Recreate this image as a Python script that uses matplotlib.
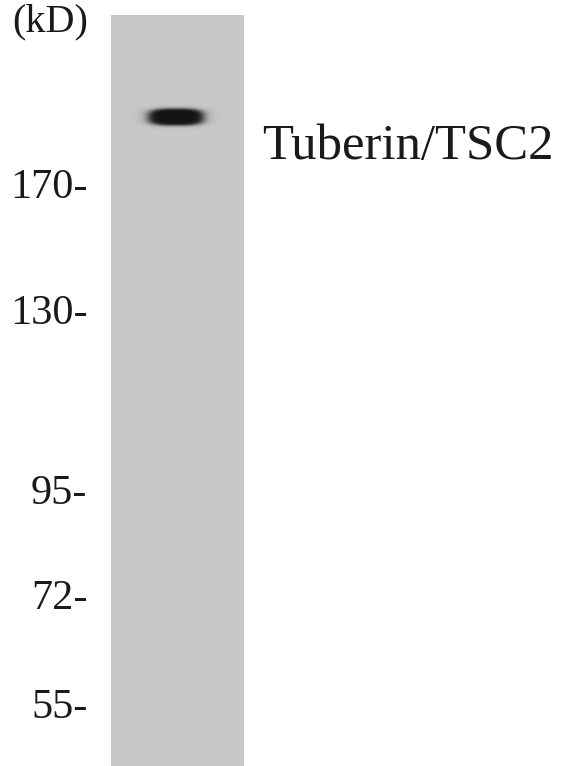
import numpy as np
import matplotlib
matplotlib.use("Agg")
import matplotlib.pyplot as plt

# marker ladder (kD) and the pixel rows where they sit on the blot
marker_labels = ["170", "130", "95", "72", "55"]
marker_rows = [183, 309, 489, 594, 703]

# detected band: centre row/col, half width/height, darkness (0..1)
band_name = "Tuberin/TSC2"
band_row = 117
band_col = 176
band_half_w = 28
band_half_h = 8.5
band_strength = 1.0

lane_color = 200 / 255.0
band_color = 20 / 255.0

W, H = 563, 766
fig = plt.figure(figsize=(W / 100, H / 100), dpi=100)
fig.patch.set_facecolor("white")

lane_left, lane_right, lane_top = 111, 244, 15
ax = fig.add_axes([lane_left / W, 0, (lane_right - lane_left) / W, (H - lane_top) / H])

# build the lane image, one value per pixel
xs = np.arange(lane_left, lane_right) + 0.5
ys = np.arange(lane_top, H) + 0.5
X, Y = np.meshgrid(xs, ys)
r = ((np.abs(X - band_col) / band_half_w) ** 3 + (np.abs(Y - band_row) / band_half_h) ** 3) ** (1 / 3)
dark = band_strength / (1 + r ** 10)
img = lane_color - (lane_color - band_color) * dark
ax.imshow(img, cmap="gray", vmin=0, vmax=1, extent=(lane_left, lane_right, H, lane_top),
          aspect="auto", interpolation="bilinear")
ax.set_xlim(lane_left, lane_right)
ax.set_ylim(H, lane_top)

ax.set_xticks([])
ax.set_yticks(marker_rows)
ax.set_yticklabels([m + "-" for m in marker_labels], family="Liberation Serif",
                   fontsize=30.5, color="#1a1a1a")
ax.tick_params(axis="y", length=0, pad=17)
for s in ax.spines.values():
    s.set_visible(False)

fig.text(12 / W, 1 - 22 / H, "(kD)", family="Liberation Serif", fontsize=29,
         color="#1a1a1a", ha="left", va="center")
fig.text(262 / W, 1 - 147 / H, band_name, family="Liberation Serif", fontsize=36.5,
         color="#1a1a1a", ha="left", va="center")

fig.savefig("out.png", dpi=100, facecolor="white")
